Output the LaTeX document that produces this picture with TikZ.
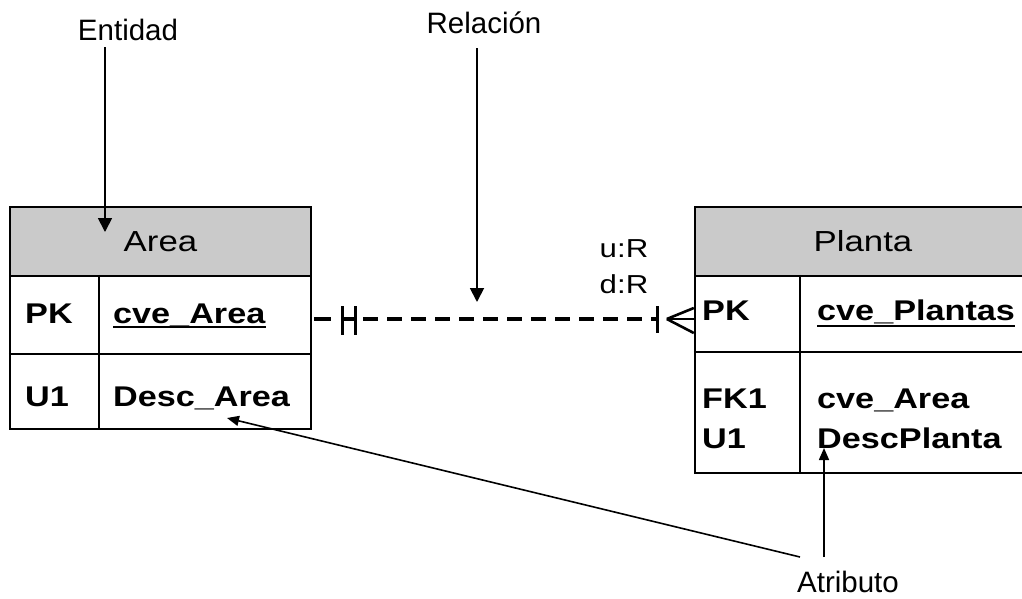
\documentclass[tikz,border=0pt]{standalone}
\usepackage{fontspec}
\setmainfont{Liberation Sans}
\newfontfamily\hdrfont[FakeStretch=1.2]{Liberation Sans}
\newfontfamily\rowfont[FakeStretch=1.2]{Liberation Sans}
\newfontfamily\cardfont[FakeStretch=1.2]{Liberation Sans}
\usetikzlibrary{arrows.meta}
\definecolor{hdrgray}{RGB}{202,202,202}
\begin{document}
\begin{tikzpicture}[x=1pt,y=-1pt,
  lbl/.style={font=\fontsize{29.5}{34}\selectfont, inner sep=0, anchor=base},
  hdrtxt/.style={font=\hdrfont\fontsize{29}{34}\selectfont},
  rowtxt/.style={font=\rowfont\bfseries\fontsize{28.5}{32}\selectfont, inner sep=0, anchor=base west},
  card/.style={font=\cardfont\fontsize{26}{30}\selectfont, inner sep=0, anchor=base},
  tbl/.style={draw, line width=2.4pt, rectangle, inner sep=0},
  hdrbox/.style={tbl, fill=hdrgray},
  tblline/.style={line width=2.4pt},
  uline/.style={line width=2pt},
  arr/.style={line width=1.8pt, -{Triangle[width=14pt,length=14pt]}},
  sarr/.style={line width=1.6pt, -{Triangle[width=10pt,length=12pt]}},
  rel/.style={line width=3.4pt},
  crow/.style={line width=2.6pt},
]
\useasboundingbox (0,0) rectangle (1022,598);
\clip (0,0) rectangle (1022,598);

% ---------- Area table ----------
\node[hdrbox, minimum width=301pt, minimum height=69pt, hdrtxt] (areaH) at (160.5,241.5) {Area};
\node[tbl, minimum width=301pt, minimum height=153pt] (areaB) at (160.5,352.5) {};
\draw[tblline] (99,0 |- areaB.north) -- (99,0 |- areaB.south);
\draw[tblline] (areaB.west |- 0,354) -- (areaB.east |- 0,354);

\node[rowtxt] (aPK) at (25,323) {PK};
\node[rowtxt] (aCve) at (113,323) {cve\_Area};
\node[rowtxt] (aU1) at (25,406) {U1};
\node[rowtxt] (aDesc) at (113,406) {Desc\_Area};
\draw[uline] ([yshift=-4pt]aCve.base west) -- ([yshift=-4pt]aCve.base east);

% ---------- Planta table ----------
\node[hdrbox, minimum width=336pt, minimum height=69pt, hdrtxt] (plantaH) at (863,241.5) {Planta};
\node[tbl, minimum width=336pt, minimum height=197pt] (plantaB) at (863,374.5) {};
\draw[tblline] (800,0 |- plantaB.north) -- (800,0 |- plantaB.south);
\draw[tblline] (plantaB.west |- 0,352) -- (plantaB.east |- 0,352);

\node[rowtxt] (pPK) at (702,320) {PK};
\node[rowtxt] (pCve) at (817,320) {cve\_Plantas};
\node[rowtxt] (pFK) at (702,408) {FK1};
\node[rowtxt] (pU1) at (702,448) {U1};
\node[rowtxt] (pCveA) at (817,408) {cve\_Area};
\node[rowtxt] (pDesc) at (817,448) {DescPlanta};
\draw[uline] ([yshift=-6pt]pCve.base west) -- ([yshift=-6pt]pCve.base east);

% ---------- Relationship ----------
\coordinate (relL) at (areaB.east |- 0,319);
\coordinate (relR) at (plantaB.west |- 0,319);
\begin{scope}[shift={(relL)}]
  \draw[rel] (2,0) -- (19,0);
  \draw[rel] (30,-13) -- (30,16);
  \draw[rel] (43,-13) -- (43,16);
  \draw[rel] (30,0) -- (43,0);
  \draw[rel, dash pattern=on 15pt off 9pt] (51,0) -- (345,0);
  \draw[rel] (345,-13) -- (345,14);
\end{scope}
\coordinate (crowApex) at ([xshift=-27pt]relR);
\draw[crow] (crowApex) -- ([yshift=11pt]relR);
\draw[crow] (crowApex) -- (relR);
\draw[crow] (crowApex) -- ([yshift=-14pt]relR);

\node[card] (uR) at (624,257) {u:R};
\node[card] (dR) at (624,293) {d:R};

% ---------- Labels and arrows ----------
\node[lbl] (ent) at (128,40) {Entidad};
\node[lbl] (relLbl) at (484,33) {Relación};
\node[lbl] (atr) at (848,592) {Atributo};

\coordinate (entFrom) at (105,47);
\coordinate (entTip) at (105,232);
\draw[arr] (entFrom) -- (entTip);

\coordinate (relFrom) at (477,48);
\coordinate (relTip) at (477,302);
\draw[arr] (relFrom) -- (relTip);

\coordinate (atrA) at (800,557);
\coordinate (descATip) at (227,418);
\draw[sarr] (atrA) -- (descATip);

\coordinate (atrB) at (824,557);
\coordinate (descPTip) at (824,448);
\draw[sarr] (atrB) -- (descPTip);
\end{tikzpicture}
\end{document}
